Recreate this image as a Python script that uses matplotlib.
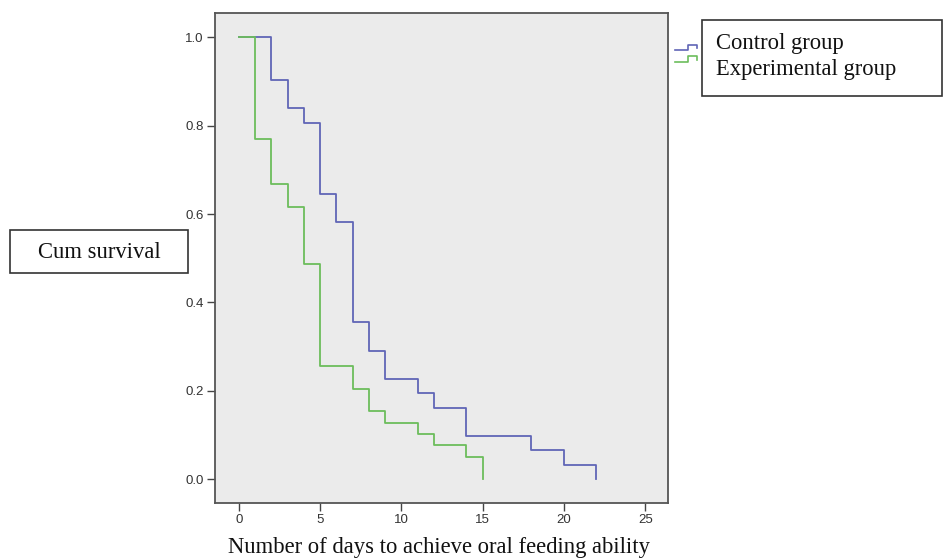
import matplotlib
matplotlib.use("Agg")
import matplotlib.pyplot as plt
from matplotlib.lines import Line2D
from matplotlib.patches import Rectangle

# Data (Kaplan-Meier step values)
control_days = [0, 2, 3, 4, 5, 6, 7, 8, 9, 11, 12, 14, 18, 20, 22]
control_surv = [1.0, 0.903, 0.839, 0.806, 0.645, 0.581, 0.355, 0.290, 0.226,
                0.194, 0.161, 0.097, 0.065, 0.032, 0.0]
exp_days = [0, 1, 2, 3, 4, 5, 7, 8, 9, 11, 12, 14, 15]
exp_surv = [1.0, 0.769, 0.667, 0.615, 0.487, 0.256, 0.205, 0.154, 0.128,
            0.103, 0.077, 0.051, 0.0]
group_names = ["Control group", "Experimental group"]
x_ticks = [0, 5, 10, 15, 20, 25]
y_ticks = [0.0, 0.2, 0.4, 0.6, 0.8, 1.0]

blue = "#6065b6"
green = "#6cbd5c"
serif = ["Liberation Serif", "DejaVu Serif"]
sans = ["Liberation Sans", "DejaVu Sans"]

W, H = 945, 559
fig = plt.figure(figsize=(W / 100, H / 100), dpi=100)
ax = fig.add_axes([215 / W, 1 - 503 / H, (668 - 215) / W, (503 - 13) / H])
ax.set_facecolor("#ebebeb")

ax.step(control_days, control_surv, where="post", color=blue, lw=1.3)
ax.step(exp_days, exp_surv, where="post", color=green, lw=1.3)

ax.set_xlim(-1.46, 26.4)
ax.set_ylim(-0.054, 1.055)
ax.set_xticks(x_ticks)
ax.set_xticklabels([str(t) for t in x_ticks], fontfamily=sans, fontsize=9.5, color="#333333")
ax.set_yticks(y_ticks)
ax.set_yticklabels([f"{t:.1f}" for t in y_ticks], fontfamily=sans, fontsize=9.5, color="#333333")
ax.tick_params(axis="both", direction="out", length=6, width=1.0, color="#444444", pad=2)
for s in ax.spines.values():
    s.set_color("#555555")
    s.set_linewidth(1.3)

# X label
fig.text(439 / W, 1 - 548 / H, "Number of days to achieve oral feeding ability",
         ha="center", va="center", fontfamily=serif, fontsize=16.3, color="#111111")

# Y label in a box
fig.patches.append(Rectangle((10 / W, 1 - 273 / H), (188 - 10) / W, (273 - 230) / H,
                             transform=fig.transFigure, fill=False, ec="#333333", lw=1.2))
fig.text(99 / W, 1 - 252 / H, "Cum survival", ha="center", va="center",
         fontfamily=serif, fontsize=16.3, color="#111111")

# Legend box
fig.patches.append(Rectangle((702 / W, 1 - 96 / H), (942 - 702) / W, (96 - 20) / H,
                             transform=fig.transFigure, fill=False, ec="#333333", lw=1.2))
fig.text(716 / W, 1 - 43 / H, group_names[0], ha="left", va="center",
         fontfamily=serif, fontsize=16.3, color="#111111")
fig.text(716 / W, 1 - 70 / H, group_names[1], ha="left", va="center",
         fontfamily=serif, fontsize=16.3, color="#111111")

# Legend step icons
def icon(y0, color):
    xs = [675, 688, 688, 697, 697]
    ys = [y0, y0, y0 - 5.5, y0 - 5.5, y0 - 2]
    fig.lines.append(Line2D([x / W for x in xs], [1 - y / H for y in ys],
                            transform=fig.transFigure, color=color, lw=1.2))

icon(50, blue)
icon(62, green)

fig.savefig("out.png", dpi=100)
